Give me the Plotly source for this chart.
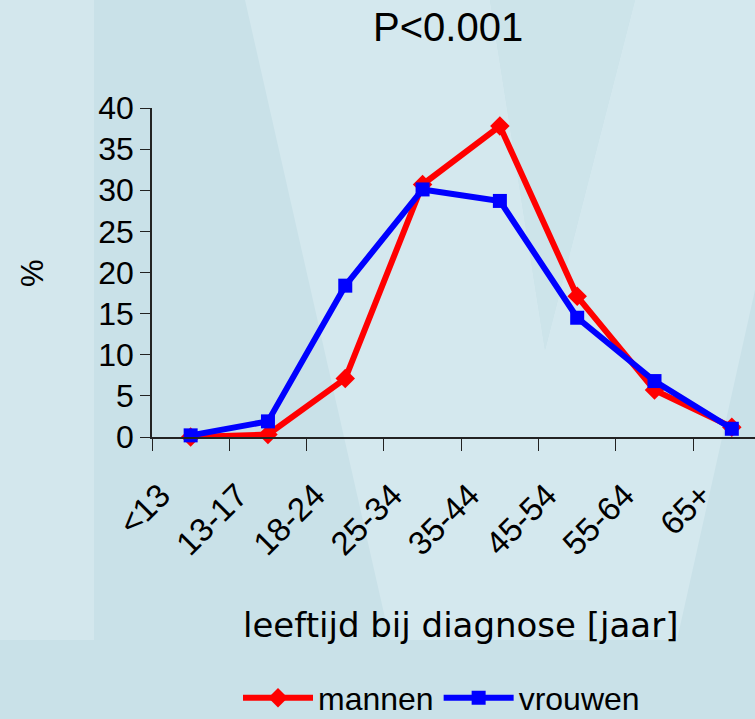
import plotly.graph_objects as go

categories = ["<13", "13-17", "18-24", "25-34", "35-44", "45-54", "55-64", "65+"]
mannen = [0.0, 0.3, 7.1, 30.7, 37.8, 17.1, 5.7, 1.2]
vrouwen = [0.2, 1.9, 18.4, 30.1, 28.7, 14.5, 6.8, 1.0]
y_ticks = [0, 5, 10, 15, 20, 25, 30, 35, 40]

W, H = 755, 719
L, R, T, B = 152, 755, 108, 437  # plot area in screen pixels
PW, PH = R - L, B - T


def px(x):
    return (x - L) / PW


def py(y):
    return (B - y) / PH


def poly(points):
    return "M " + " L ".join(f"{px(x):.5f},{py(y):.5f}" for x, y in points) + " Z"


LIGHT = "#d4e8ee"
DARK = "#c9e1e8"

shapes = [
    dict(type="path", xref="paper", yref="paper", layer="below", line=dict(width=0),
         fillcolor="#d3e7ed", path=poly([(0, 0), (94, 0), (94, 640), (0, 640)])),
    dict(type="path", xref="paper", yref="paper", layer="below", line=dict(width=0),
         fillcolor=LIGHT,
         path=poly([(245, 0), (490, 0), (545, 350), (635, 0), (755, 0), (755, 290),
                    (677, 640), (390, 640)])),
    dict(type="path", xref="paper", yref="paper", layer="below", line=dict(width=0),
         fillcolor="#cde4ea", path=poly([(490, 0), (635, 0), (545, 350)])),
]

fig = go.Figure()
fig.add_trace(go.Scatter(
    x=categories, y=mannen, name="mannen", mode="lines+markers",
    line=dict(color="#ff0000", width=6),
    marker=dict(symbol="diamond", size=15, color="#ff0000"),
    cliponaxis=False,
))
fig.add_trace(go.Scatter(
    x=categories, y=vrouwen, name="vrouwen", mode="lines+markers",
    line=dict(color="#0000ff", width=6),
    marker=dict(symbol="square", size=14, color="#0000ff"),
    cliponaxis=False,
))

FONT = "Liberation Sans, Arial, sans-serif"

fig.update_layout(
    width=W, height=H,
    margin=dict(l=L, r=W - R, t=T, b=H - B, pad=0, autoexpand=False),
    paper_bgcolor=DARK,
    plot_bgcolor="rgba(0,0,0,0)",
    font=dict(family=FONT, color="#000000", size=30),
    showlegend=True,
    legend=dict(orientation="h", x=px(238), y=py(698), xanchor="left", yanchor="middle",
                font=dict(size=32, family=FONT), bgcolor="rgba(0,0,0,0)",
                itemwidth=70, tracegroupgap=0),
    shapes=shapes,
    xaxis=dict(
        type="category", categoryorder="array", categoryarray=categories,
        range=[-0.5, 7.3], tickson="boundaries", ticks="outside", ticklen=12,
        tickwidth=1, tickcolor="#222", showline=True, linecolor="#222", linewidth=1.5,
        showgrid=False, zeroline=False, tickangle=-45,
        tickfont=dict(size=33, family=FONT),
        ticklabelstandoff=24, ticklabelshift=-30,
    ),
    yaxis=dict(
        range=[0, 40], tickmode="array", tickvals=y_ticks, ticks="outside", ticklen=10,
        tickwidth=1, tickcolor="#222", showline=True, linecolor="#222", linewidth=1.5,
        showgrid=False, zeroline=False, tickfont=dict(size=32, family=FONT),
        ticksuffix="\u00a0\u00a0",
    ),
    annotations=[
        dict(text="P<0.001", xref="paper", yref="paper", x=px(448), y=py(27),
             xanchor="center", yanchor="middle", showarrow=False,
             font=dict(size=40, family=FONT)),
        dict(text="%", xref="paper", yref="paper", x=px(32), y=py(273),
             xanchor="center", yanchor="middle", showarrow=False, textangle=-90,
             font=dict(size=31, family=FONT)),
        dict(text="leeftijd bij diagnose [jaar]", xref="paper", yref="paper",
             x=px(460), y=py(625), xanchor="center", yanchor="middle", showarrow=False,
             font=dict(size=34, family="DejaVu Sans, sans-serif")),
    ],
)

fig.write_html("out.html", config={"displayModeBar": False},
               post_script="document.body.style.margin='0';")
